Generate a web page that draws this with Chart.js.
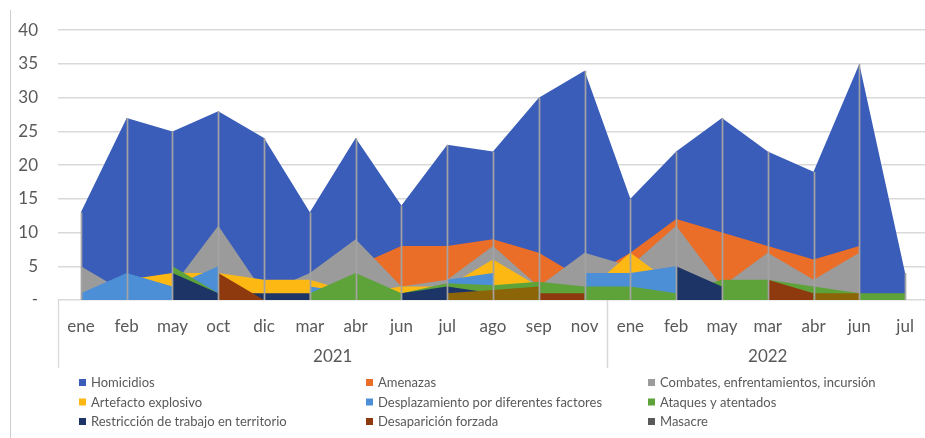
<!DOCTYPE html>
<html lang="es">
<head>
<meta charset="utf-8">
<title>Eventos por mes</title>
<script src="https://cdn.jsdelivr.net/npm/chart.js@4.4.1/dist/chart.umd.min.js"></script>
<style>
  html, body { margin: 0; padding: 0; background: #fff; overflow: hidden; width: 925px; height: 438px; }
  #wrap { position: relative; width: 925px; height: 438px; overflow: hidden; }
  #wrap canvas { position: absolute; left: 0; top: 0; }
  #frame { position: absolute; left: 10px; top: 10px; height: 428px; border-left: 1.5px solid #cfcfcf; }
</style>
</head>
<body>
<div id="wrap">
  <canvas id="chart" width="940" height="438"></canvas>
  <div id="frame"></div>
</div>
<script>
// Months (x axis) and the year each run of months belongs to
const categories = ['ene','feb','may','oct','dic','mar','abr','jun','jul','ago','sep','nov',
                    'ene','feb','may','mar','abr','jun','jul'];
const years = ['2021', '2022'];
const yearSpans = [12, 7];

// Y axis ticks
const yTicks = [0, 5, 10, 15, 20, 25, 30, 35, 40];

// Series (null = no record for that month)
const homicidios     = [13, 27, 25, 28, 24, 13, 24, 14, 23, 22, 30, 34, 15, 22, 27, 22, 19, 35, 4];
const amenazas       = [null, null, null, null, null, null, 5, 8, 8, 9, 7, 3, 7, 12, 10, 8, 6, 8, null];
const combates       = [5, 1, 2, 11, 1, 4, 9, 2, 3, 8, 2, 7, 5, 11, 2, 7, 3, 7, null];
const artefacto      = [null, 3, 4, 4, 3, 3, 1, 2, 2, 6, 2, 1, 7, 2, null, null, null, null, null];
const desplazamiento = [1, 4, 2, 5, null, 2, 1, null, 3, 4, null, 4, 4, 5, null, null, null, null, null];
const ataques        = [null, null, 5, 1, null, 1, 4, 1, 2.5, 2.2, 2.7, 2, 2, 1, 3, 3, 2, 1, 1];
const restriccion    = [null, null, 4, 1, 1, 1, null, 1, 2, 1, null, null, null, 5, 2, null, null, null, null];
const desaparicion   = [null, null, null, 4, 0, null, null, null, null, null, 1, 1, null, null, null, 3, 1, null, null];
const masacre        = [null, null, null, null, null, null, null, null, null, null, null, null, null, null, null, null, null, null, null];
const otros          = [null, null, null, null, null, null, null, null, 1, 1.5, 2, null, null, null, null, null, 1, 1, null];

const seriesNames = ['Homicidios', 'Amenazas', 'Combates, enfrentamientos, incursión', 'Artefacto explosivo',
  'Desplazamiento por diferentes factores', 'Ataques y atentados', 'Restricción de trabajo en territorio',
  'Desaparición forzada', 'Masacre', 'Otros'];
const seriesValues = [homicidios, amenazas, combates, artefacto, desplazamiento, ataques,
  restriccion, desaparicion, masacre, otros];
const seriesColors = ['#3A5DB9', '#EA6E28', '#9B9B9B', '#FDB813', '#4C8FD6', '#5DA33A',
  '#1D3566', '#8E3A0E', '#595959', '#8C6508'];
const inLegend = [true, true, true, true, true, true, true, true, true, false];

const FONT = 'Lato, "Liberation Sans", sans-serif';
const TEXT = '#595959';
const LINE = '#d9d9d9';

// Vertical drop lines from the tallest value of each month down to zero
const dropLines = {
  id: 'dropLines',
  afterDatasetsDraw(chart) {
    const { ctx, scales: { x, y } } = chart;
    ctx.save();
    ctx.strokeStyle = '#a3a3a3';
    ctx.lineWidth = 1.7;
    categories.forEach((c, i) => {
      let max = null;
      chart.data.datasets.forEach(ds => {
        const v = ds.data[i];
        if (v !== null && (max === null || v > max)) max = v;
      });
      if (max === null) return;
      const px = Math.round(x.getPixelForValue(i)) + 0.5;
      ctx.beginPath();
      ctx.moveTo(px, y.getPixelForValue(max));
      ctx.lineTo(px, y.getPixelForValue(0));
      ctx.stroke();
    });
    ctx.restore();
  }
};

// Year row under the month labels, with separators between the years
const yearRow = {
  id: 'yearRow',
  afterDraw(chart) {
    const { ctx, chartArea, scales: { x } } = chart;
    const step = x.getPixelForValue(1) - x.getPixelForValue(0);
    ctx.save();
    ctx.strokeStyle = LINE;
    ctx.lineWidth = 1.3;
    ctx.fillStyle = TEXT;
    ctx.font = '17px ' + FONT;
    ctx.textAlign = 'center';
    ctx.textBaseline = 'middle';
    let start = 0;
    const edge = i => x.getPixelForValue(i) - step / 2;
    years.forEach((yr, g) => {
      const x0 = edge(start), x1 = edge(start + yearSpans[g]);
      [x0, x1].forEach(px => {
        ctx.beginPath();
        ctx.moveTo(Math.round(px) + 0.5, chartArea.bottom);
        ctx.lineTo(Math.round(px) + 0.5, 368);
        ctx.stroke();
      });
      ctx.fillText(yr, (x0 + x1) / 2, 357);
      start += yearSpans[g];
    });
    ctx.restore();
  }
};

// Three-column legend below the axis
const gridLegend = {
  id: 'gridLegend',
  afterDraw(chart) {
    const { ctx } = chart;
    const cols = [79, 366, 648];
    const rows = [382.5, 402, 421.5];
    ctx.save();
    ctx.font = '13px ' + FONT;
    ctx.textBaseline = 'middle';
    ctx.textAlign = 'left';
    let k = 0;
    chart.data.datasets.forEach((ds, i) => {
      if (!inLegend[i]) return;
      const cx = cols[k % 3], cy = rows[Math.floor(k / 3)];
      ctx.fillStyle = ds.backgroundColor;
      ctx.fillRect(cx, cy - 3.5, 7, 7);
      ctx.fillStyle = TEXT;
      ctx.fillText(ds.label, cx + 12, cy + 0.5);
      k++;
    });
    ctx.restore();
  }
};

const datasets = seriesNames.map((name, i) => ({
  label: name,
  data: seriesValues[i],
  backgroundColor: seriesColors[i],
  borderColor: seriesColors[i],
  borderWidth: 0,
  pointRadius: 0,
  pointHoverRadius: 0,
  tension: 0,
  fill: 'origin',
  spanGaps: false,
  order: seriesNames.length - i   // first series at the back
}));

new Chart(document.getElementById('chart'), {
  type: 'line',
  data: { labels: categories, datasets },
  options: {
    responsive: false,
    animation: false,
    events: [],
    layout: { padding: { top: 29, right: 12, left: 0, bottom: 0 } },
    plugins: { legend: { display: false }, tooltip: { enabled: false } },
    scales: {
      x: {
        type: 'category',
        offset: true,
        grid: { display: false, drawTicks: false },
        border: { display: false },
        ticks: {
          autoSkip: false, maxRotation: 0, padding: 16,
          color: TEXT, font: { family: FONT, size: 17 }
        },
        afterFit(s) { s.height = 138; }
      },
      y: {
        min: 0, max: 40,
        afterBuildTicks(s) { s.ticks = yTicks.map(v => ({ value: v })); },
        grid: { color: LINE, lineWidth: 1.5, drawTicks: false },
        border: { display: false },
        ticks: {
          padding: 20, color: TEXT, font: { family: FONT, size: 17 },
          callback: v => (v === 0 ? '-' : String(v))
        },
        afterFit(s) { s.width = 58; }
      }
    }
  },
  plugins: [dropLines, yearRow, gridLegend]
});
</script>
</body>
</html>
